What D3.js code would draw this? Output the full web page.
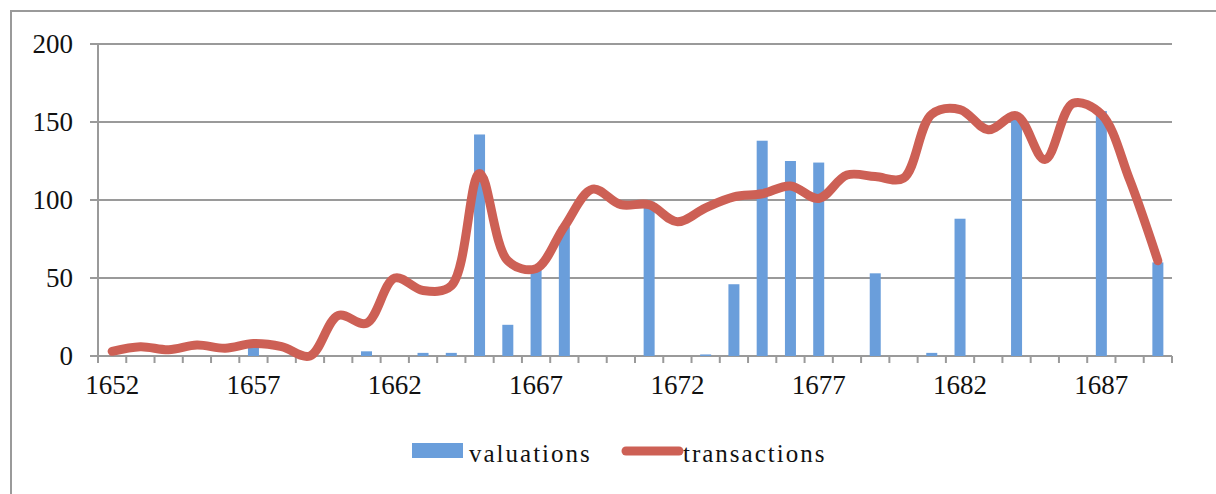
<!DOCTYPE html>
<html>
<head>
<meta charset="utf-8">
<script src="https://d3js.org/d3.v7.min.js"></script>
<style>
  body { margin: 0; background: #fff; }
  svg text { font-family: "Liberation Serif", "DejaVu Serif", serif; fill: #111; }
</style>
</head>
<body>
<svg id="chart"></svg>
<script>
// chart data
var years = d3.range(1652, 1690);
var yTicks = [0, 50, 100, 150, 200];
var xLabels = [1652, 1657, 1662, 1667, 1672, 1677, 1682, 1687];
var valuations = [0, 0, 0, 0, 0, 6, 0, 0, 0, 3, 0, 2, 2, 142, 20, 55, 83, 0, 0, 99,
                  0, 1, 46, 138, 125, 124, 0, 53, 0, 2, 88, 0, 152, 0, 0, 157, 0, 60];
var transactions = [3, 6, 4, 7, 5, 8, 6, 0, 26, 21, 50, 42, 45, 117, 61, 56, 83, 107, 97, 97,
                    86, 95, 102, 104, 109, 101, 116, 115, 114, 155, 158, 145, 154, 126, 162, 155, 113, 61];

var w = 1216, h = 494;
var pLeft = 98, pRight = 1172, pTop = 44, pBottom = 356;

var svg = d3.select("#chart").attr("width", w).attr("height", h);

// outer frame
svg.append("path")
    .attr("d", "M11," + h + "V11H" + w)
    .attr("fill", "none")
    .attr("stroke", "#9a9a9a")
    .attr("stroke-width", 2);

var x = d3.scaleBand().domain(years).range([pLeft, pRight]).paddingInner(0).paddingOuter(0);
var y = d3.scaleLinear().domain([0, 200]).range([pBottom, pTop]);

// gridlines
svg.append("g").selectAll("line")
    .data(yTicks)
    .enter()
    .append("line")
    .attr("x1", pLeft - 8)
    .attr("x2", pRight)
    .attr("y1", function (d) { return y(d); })
    .attr("y2", function (d) { return y(d); })
    .attr("stroke", "#9a9a9a")
    .attr("stroke-width", 2);

// y axis line
svg.append("line")
    .attr("x1", pLeft).attr("x2", pLeft)
    .attr("y1", pTop).attr("y2", pBottom + 7)
    .attr("stroke", "#9a9a9a").attr("stroke-width", 2);

// y labels
svg.append("g").selectAll("text")
    .data(yTicks)
    .enter()
    .append("text")
    .attr("x", 73)
    .attr("y", function (d) { return y(d) + 9; })
    .attr("text-anchor", "end")
    .attr("font-size", "27px")
    .text(function (d) { return d; });

// x tick marks between categories
svg.append("g").selectAll("line")
    .data(years.concat([1690]))
    .enter()
    .append("line")
    .attr("x1", function (d, i) { return pLeft + i * x.bandwidth(); })
    .attr("x2", function (d, i) { return pLeft + i * x.bandwidth(); })
    .attr("y1", pBottom)
    .attr("y2", pBottom + 7)
    .attr("stroke", "#9a9a9a")
    .attr("stroke-width", 2);

// x labels
svg.append("g").selectAll("text")
    .data(xLabels)
    .enter()
    .append("text")
    .attr("x", function (d) { return x(d) + x.bandwidth() / 2; })
    .attr("y", pBottom + 38)
    .attr("text-anchor", "middle")
    .attr("font-size", "27px")
    .text(function (d) { return d; });

// bars
var barW = 11;
svg.append("g").selectAll("rect")
    .data(years.map(function (yr, i) { return { year: yr, v: valuations[i] }; }).filter(function (d) { return d.v > 0; }))
    .enter()
    .append("rect")
    .attr("x", function (d) { return x(d.year) + x.bandwidth() / 2 - barW / 2; })
    .attr("width", barW)
    .attr("y", function (d) { return y(d.v); })
    .attr("height", function (d) { return pBottom - y(d.v); })
    .attr("fill", "#6a9edb");

// transactions line
var line = d3.line()
    .x(function (d, i) { return x(years[i]) + x.bandwidth() / 2; })
    .y(function (d) { return y(d); })
    .curve(d3.curveCatmullRom.alpha(0.5));

svg.append("path")
    .datum(transactions)
    .attr("d", line)
    .attr("fill", "none")
    .attr("stroke", "#cd6055")
    .attr("stroke-width", 9)
    .attr("stroke-linecap", "round")
    .attr("stroke-linejoin", "round");

// legend
svg.append("rect")
    .attr("x", 412).attr("y", 443)
    .attr("width", 51).attr("height", 15)
    .attr("fill", "#6a9edb");
svg.append("text")
    .attr("x", 469).attr("y", 462)
    .attr("font-size", "25px")
    .attr("letter-spacing", "2px")
    .text("valuations");
svg.append("line")
    .attr("x1", 626).attr("x2", 679)
    .attr("y1", 451).attr("y2", 451)
    .attr("stroke", "#cd6055")
    .attr("stroke-width", 9)
    .attr("stroke-linecap", "round");
svg.append("text")
    .attr("x", 683).attr("y", 462)
    .attr("font-size", "25px")
    .attr("letter-spacing", "2px")
    .text("transactions");
</script>
</body>
</html>
